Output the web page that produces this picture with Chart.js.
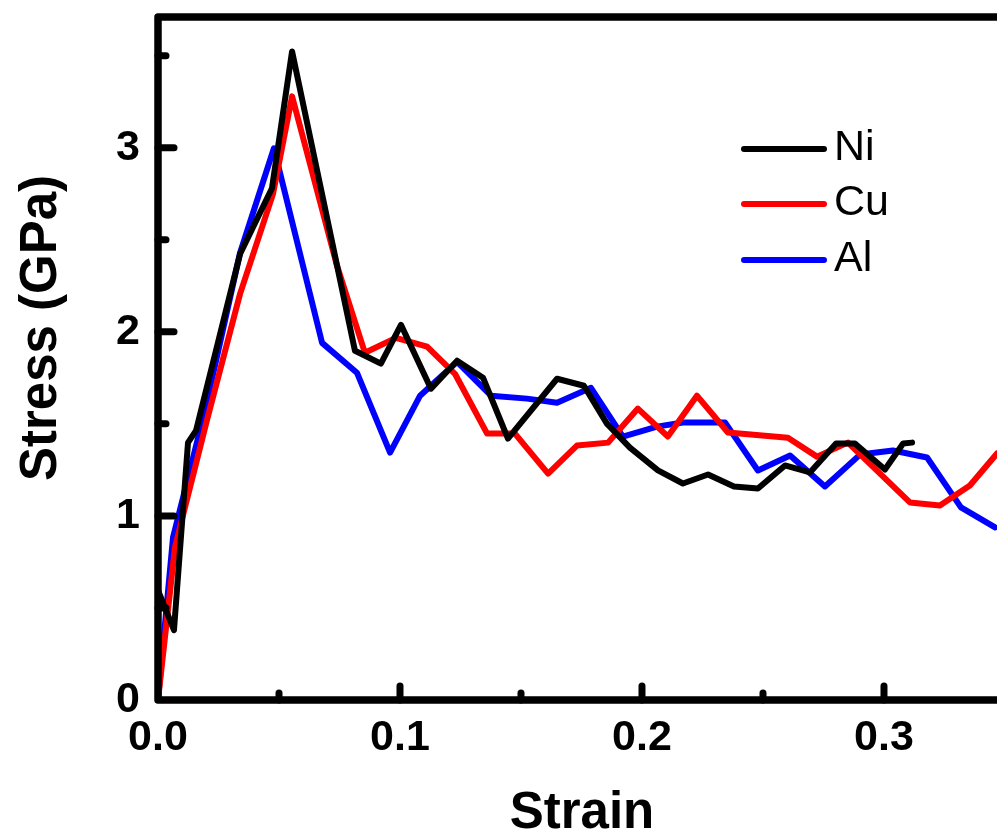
<!DOCTYPE html>
<html>
<head>
<meta charset="utf-8">
<title>Stress–strain curves of Ni, Cu and Al</title>
<script src="https://cdn.jsdelivr.net/npm/chart.js@4.4.1/dist/chart.umd.min.js"></script>
<style>
  html, body { margin: 0; padding: 0; background: #ffffff; overflow: hidden; }
  #wrap { width: 997px; height: 834px; position: relative; }
</style>
</head>
<body>
<div id="wrap"><canvas id="c" width="997" height="834"></canvas></div>
<script>
// Stress (GPa) against engineering strain for three metals
const strainNi = [0, 0.0066, 0.0124, 0.0157, 0.0339, 0.0471, 0.0554, 0.0814, 0.0921, 0.1004, 0.1128, 0.1236, 0.1343, 0.1446, 0.1649, 0.1760, 0.1855, 0.1950, 0.2066, 0.2169, 0.2273, 0.2380, 0.2479, 0.2591, 0.2694, 0.2802, 0.2880, 0.3004, 0.3079, 0.3116];
const stressNi = [0.596, 0.379, 1.398, 1.463, 2.423, 2.780, 3.523, 1.897, 1.827, 2.038, 1.691, 1.843, 1.751, 1.420, 1.745, 1.707, 1.501, 1.371, 1.247, 1.176, 1.225, 1.160, 1.149, 1.274, 1.236, 1.393, 1.393, 1.252, 1.393, 1.398];

const strainCu = [0, 0.0070, 0.0202, 0.0339, 0.0475, 0.0554, 0.0740, 0.0855, 0.0983, 0.1112, 0.1227, 0.1360, 0.1475, 0.1612, 0.1731, 0.1860, 0.1983, 0.2107, 0.2227, 0.2355, 0.2603, 0.2723, 0.2851, 0.3107, 0.3231, 0.3355, 0.3467];
const stressCu = [0, 0.829, 1.518, 2.206, 2.748, 3.279, 2.358, 1.886, 1.967, 1.919, 1.772, 1.447, 1.447, 1.230, 1.382, 1.398, 1.583, 1.431, 1.653, 1.453, 1.425, 1.322, 1.398, 1.073, 1.057, 1.165, 1.339];

const strainAl = [0, 0.0062, 0.0194, 0.0339, 0.0479, 0.0678, 0.0822, 0.0959, 0.1083, 0.1236, 0.1376, 0.1525, 0.1649, 0.1789, 0.1921, 0.2062, 0.2169, 0.2343, 0.2479, 0.2612, 0.2756, 0.2901, 0.3037, 0.3178, 0.3318, 0.3459];
const stressAl = [0, 0.883, 1.572, 2.428, 2.997, 1.940, 1.778, 1.344, 1.653, 1.837, 1.653, 1.637, 1.615, 1.696, 1.431, 1.485, 1.507, 1.507, 1.247, 1.328, 1.160, 1.333, 1.355, 1.317, 1.046, 0.938];

const seriesNames = ['Ni', 'Cu', 'Al'];
const seriesColors = ['#000000', '#ff0000', '#0000ff'];

const xMajorTicks = [0, 0.1, 0.2, 0.3];
const xMinorTicks = [0.05, 0.15, 0.25];
const yMajorTicks = [0, 1, 2, 3];
const yMinorTicks = [0.5, 1.5, 2.5, 3.5];

const xTitle = 'Strain';
const yTitle = 'Stress (GPa)';

const FONT = '"Liberation Sans", Arial, Helvetica, sans-serif';

function pairs(xs, ys) {
  return xs.map((x, i) => ({ x: x, y: ys[i] }));
}

// Frame, inward ticks, axis titles and the in-plot legend
const framePlugin = {
  id: 'frame',
  afterDraw(chart) {
    const ctx = chart.ctx;
    const a = chart.chartArea;
    const xs = chart.scales.x;
    const ys = chart.scales.y;
    ctx.save();
    ctx.strokeStyle = '#000';
    ctx.lineWidth = 7.5;
    ctx.lineJoin = 'round';
    ctx.lineCap = 'butt';
    ctx.beginPath();
    ctx.moveTo(chart.width + 10, a.top);
    ctx.lineTo(a.left, a.top);
    ctx.lineTo(a.left, a.bottom);
    ctx.lineTo(chart.width + 10, a.bottom);
    ctx.stroke();

    ctx.lineCap = 'round';
    ctx.lineWidth = 7;
    const tick = (x1, y1, x2, y2) => {
      ctx.beginPath(); ctx.moveTo(x1, y1); ctx.lineTo(x2, y2); ctx.stroke();
    };
    xMajorTicks.forEach(v => { if (v > 0) { const p = xs.getPixelForValue(v); tick(p, a.bottom, p, a.bottom - 14); } });
    xMinorTicks.forEach(v => { const p = xs.getPixelForValue(v); tick(p, a.bottom, p, a.bottom - 7); });
    yMajorTicks.forEach(v => { if (v > 0) { const p = ys.getPixelForValue(v); tick(a.left, p, a.left + 16, p); } });
    yMinorTicks.forEach(v => { const p = ys.getPixelForValue(v); tick(a.left, p, a.left + 8, p); });

    // axis titles
    ctx.fillStyle = '#000';
    ctx.font = 'bold 51px ' + FONT;
    ctx.textAlign = 'center';
    ctx.textBaseline = 'alphabetic';
    ctx.fillText(xTitle, 582, 828);
    ctx.save();
    ctx.translate(56, 328);
    ctx.rotate(-Math.PI / 2);
    ctx.fillText(yTitle, 0, 0);
    ctx.restore();

    // legend
    const rows = [149, 204, 260];
    ctx.font = '43px ' + FONT;
    ctx.textAlign = 'left';
    ctx.textBaseline = 'middle';
    chart.data.datasets.forEach((ds, i) => {
      ctx.strokeStyle = ds.borderColor;
      ctx.lineWidth = 6;
      ctx.lineCap = 'round';
      tick(744, rows[i], 824, rows[i]);
      ctx.fillStyle = '#000';
      ctx.fillText(ds.label, 834, rows[i] - 1);
    });
    ctx.restore();
  }
};

new Chart(document.getElementById('c'), {
  type: 'line',
  data: {
    datasets: [
      { label: seriesNames[0], data: pairs(strainNi, stressNi), borderColor: seriesColors[0] },
      { label: seriesNames[1], data: pairs(strainCu, stressCu), borderColor: seriesColors[1] },
      { label: seriesNames[2], data: pairs(strainAl, stressAl), borderColor: seriesColors[2] }
    ].map(d => Object.assign(d, {
      borderWidth: 6, pointRadius: 0, tension: 0, fill: false,
      borderJoinStyle: 'round', borderCapStyle: 'round'
    }))
  },
  options: {
    responsive: false,
    animation: false,
    devicePixelRatio: 1,
    layout: { padding: { top: 17, right: 0, left: 0, bottom: 0 } },
    plugins: { legend: { display: false }, tooltip: { enabled: false } },
    scales: {
      x: {
        type: 'linear', min: 0, max: 0.3467,
        afterBuildTicks: s => { s.ticks = xMajorTicks.map(v => ({ value: v })); },
        afterFit: s => { s.height = 134; s.paddingLeft = 0; s.paddingRight = 0; },
        grid: { display: false, drawTicks: false },
        border: { display: false },
        ticks: {
          autoSkip: false, maxRotation: 0, padding: 12, color: '#000',
          font: { family: FONT, size: 43, weight: 'bold' },
          callback: v => v.toFixed(1)
        }
      },
      y: {
        type: 'linear', min: 0, max: 3.71,
        afterBuildTicks: s => { s.ticks = yMajorTicks.map(v => ({ value: v })); },
        afterFit: s => { s.width = 158; s.paddingTop = 0; s.paddingBottom = 0; },
        grid: { display: false, drawTicks: false },
        border: { display: false },
        ticks: {
          autoSkip: false, padding: 18, color: '#000',
          font: { family: FONT, size: 43, weight: 'bold' },
          callback: v => String(v)
        }
      }
    }
  },
  plugins: [framePlugin]
});
</script>
</body>
</html>
